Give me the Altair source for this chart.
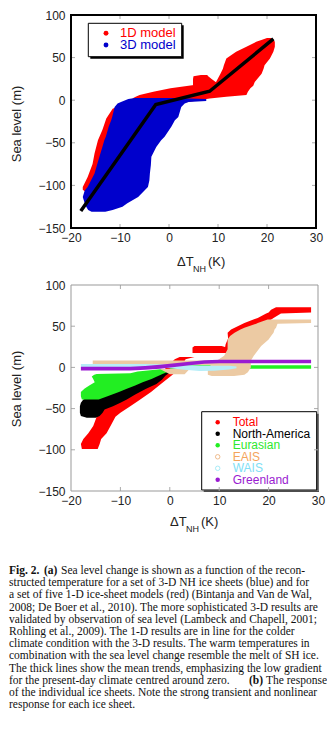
import altair as alt
import pandas as pd

SANS = "Liberation Sans"
SERIF = "Liberation Serif"

XT = [-20, -10, 0, 10, 20, 30]
YT = [-150, -100, -50, 0, 50, 100]
XT_IN = [-10, 0, 10, 20]
YT_IN = [-100, -50, 0, 50]

# ---------------- panel (a) : cloud outlines ----------------
# 1D model (red) pieces: sea level y, left x, right x
RED_LEFT_Y = [-107, -105, -101.8, -90, -75, -62.6, -47, -35, -21.6, -10, -4]
RED_LEFT_XL = [-17.2, -17.6, -17.6, -16.6, -15.6, -15.2, -14.5, -13.6, -12.8, -11.5, -9]
RED_LEFT_XR = [-12, -10, -9, -9, -9, -9, -9, -9, -9, -8, -5]

RED_BODY_Y = [-4, 2, 4, 6, 10, 14, 17, 21.5, 31, 37, 41, 49, 57, 62.6, 68.5, 71, 73]
RED_BODY_XL = [-5, -7.5, -6.8, -6, -3.2, 0.3, 4, 9.6, 10.5, 11, 11.2, 11.7, 13.7, 15.8, 17.8, 19, 20]
RED_BODY_XR = [2, 8.3, 11.7, 15.8, 16.1, 16.6, 17.2, 17.5, 18.9, 19.3, 19.5, 20.6, 21.3, 21.6, 21.6, 21.3, 20.8]

RED_ARM_Y = [17, 21, 25, 28, 29.5]
RED_ARM_XL = [4.9, 4.9, 4.9, 5.0, 6.5]
RED_ARM_XR = [10, 9.6, 8.7, 8.0, 7.8]

# 3D model (blue)
BLUE_Y = [-131, -129, -125, -121, -113.5, -106, -101.8, -94, -86, -76, -66.5, -55, -47, -43,
          -31, -23.5, -19.6, -8, -4, -2, -1, 1.5, 2.5]
BLUE_XL = [-15.8, -16.5, -16.9, -17.2, -17.6, -17.2, -16.6, -15.9, -15.2, -14.7, -14.2, -13.6,
           -13.2, -12.9, -12.3, -11.8, -11.6, -11.1, -10.5, -9.8, -9.3, -8.3, -7]
BLUE_XR = [-13, -11.5, -9.5, -8.5, -6.3, -5, -4.3, -4.0, -3.9, -3.7, -3.6, -2.6, -1.6, -0.9,
           0.5, 1.2, 1.9, 2.5, 3.2, 4, 7.6, 7.6, 1]

# mean trend (thick black line)
MEAN_X = [-18, -2.7, 8.3, 21.3]
MEAN_Y = [-130, -5, 10.5, 72]

LEG_A = ["1D model", "3D model"]
LEG_A_COL = ["#ff0000", "#0000cc"]

# ---------------- panel (b) ----------------
TOT_LOW_Y = [-99, -93, -87, -80, -71, -60, -55, -47, -40, -30, -20, -10, -2, 4, 10, 12.5]
TOT_LOW_XL = [-17.8, -18, -17.5, -16.5, -15.5, -14.8, -14.5, -13.5, -12, -9, -6, -3, -1, 0, 1, 2]
TOT_LOW_XR = [-14.6, -14.2, -13.9, -12.8, -12, -11, -10, -8, -6.2, -3.8, -1.8, 0.3, 2, 2.6, 3.2, 5]

TOT_ARM_Y = [17.5, 20, 24, 26]
TOT_ARM_XL = [4.6, 4.6, 4.6, 5.0]
TOT_ARM_XR = [12, 12, 11.5, 10.5]

TOT_TOP_Y = [18, 28, 35, 42, 46, 54, 60, 65.5, 66.5, 70, 73]
TOT_TOP_XL = [11, 11.3, 11.8, 11.7, 12.4, 15.1, 17.8, 19.5, 20, 20.5, 21.5]
TOT_TOP_XR = [14, 14, 15, 16, 17, 19.5, 21, 22.5, 28.6, 28.6, 28.6]

NA_Y = [-61, -59, -55, -51, -47, -43, -39, -33, -26, -20, -15, -10, -5, -3]
NA_XL = [-16.8, -18, -18.2, -18.2, -18.2, -18, -17.5, -15, -13, -10, -7, -4, -1.5, 0]
NA_XR = [-15, -14.2, -13.6, -13.2, -11.5, -10, -8.7, -7, -4.8, -2.7, -1.6, -0.9, 0.3, 1]

EU_Y = [-39, -35, -30, -26, -22, -18, -14, -11, -9, -8, -7, -5, -3, -2]
EU_XL = [-17.8, -18, -18, -17.3, -16.3, -15.2, -15.5, -15.8, -15.3, -14.8, -8, -6.5, -3, -1.5]
EU_XR = [-14.4, -12.6, -10.3, -8.7, -7, -5.5, -3.7, -2.6, -1.8, -1.5, -1.1, -0.3, 0.3, 0.5]
EU_BAR_Y = [-1.5, 2.5]
EU_BAR_XL = [0, 0]
EU_BAR_XR = [28.6, 28.6]

EAIS_BAND_Y = [3, 8.4]
EAIS_BAND_XL = [-15.6, -15.6]
EAIS_BAND_XR = [10, 10]
EAIS_LOW_Y = [-8.4, -2]
EAIS_LOW_XL = [0, -2]
EAIS_LOW_XR = [3, 4]
EAIS_Y = [-10.5, -9, -6, 0, 8, 14, 22, 26, 34, 38, 42, 46, 48, 53, 54, 56, 58]
EAIS_XL = [8.5, 7.7, 7.7, 7.7, 9.5, 11, 11.7, 11.7, 11.7, 12.2, 13.1, 14.3, 15.1, 17.5, 17.8, 18.8, 19.8]
EAIS_XR = [13, 15.1, 15.8, 16.4, 16.4, 17, 18, 18.5, 20, 20.5, 21, 21.2, 21.5, 21.8, 28.6, 28.6, 28.6]

WAIS_X = [-18, -10, -5, 0, 3, 6, 9, 12, 13.5]
WAIS_LO = [0.3, 0.3, 0, -1, -3, -4.5, -4, -2.5, -1]
WAIS_HI = [4, 4, 4, 3.5, 3, 2, 2, 2, 1]

GRL_X = [-18, -8, -5, -2, 1, 4, 7, 10, 28.6]
GRL_LO = [-3.8, -3.8, -3, -1.5, 0.5, 2.5, 4.5, 5, 5]
GRL_HI = [0.8, 0.8, 1.8, 3.2, 5, 7, 8.8, 9.2, 9.2]

LEG_B = ["Total", "North-America", "Eurasian", "EAIS", "WAIS", "Greenland"]
LEG_B_TXT = ["#ff0000", "#000000", "#2ee82e", "#f4a45c", "#80e0f5", "#9a1bd1"]
LEG_B_SYM = ["#ff0000", "#000000", "#22ee22", "#efbb8c", "#a8ecf8", "#9a1bd1"]
LEG_B_FILLED = [True, True, True, False, False, True]

CAPTION = [
    "Fig. 2. (a) Sea level change is shown as a function of the recon-",
    "structed temperature for a set of 3-D NH ice sheets (blue) and for",
    "a set of five 1-D ice-sheet models (red) (Bintanja and Van de Wal,",
    "2008; De Boer et al., 2010). The more sophisticated 3-D results are",
    "validated by observation of sea level (Lambeck and Chapell, 2001;",
    "Rohling et al., 2009). The 1-D results are in line for the colder",
    "climate condition with the 3-D results. The warm temperatures in",
    "combination with the sea level change resemble the melt of SH ice.",
    "The thick lines show the mean trends, emphasizing the low gradient",
    "for the present-day climate centred around zero. (b) The response",
    "of the individual ice sheets. Note the strong transient and nonlinear",
    "response for each ice sheet.",
]

# ---------------- helpers ----------------
XS = alt.Scale(domain=[-20, 30], nice=False, zero=False)
YS = alt.Scale(domain=[-150, 100], nice=False, zero=False)
AX = alt.Axis(values=XT, title=None, ticks=False, domain=False, grid=False, labelPadding=4,
              labelFontSize=12, labelFont=SANS, labelColor="#222", labelFlush=False, labelOverlap=False)
AY = alt.Axis(values=YT, title=None, ticks=False, domain=False, grid=False, labelPadding=6,
              labelFontSize=12, labelFont=SANS, labelColor="#222", labelOverlap=False)
ONE = pd.DataFrame({"k": [0]})


def harea(ys, xl, xr, color, opacity=1.0):
    df = pd.DataFrame({"y": ys, "xl": xl, "xr": xr})
    return alt.Chart(df).mark_area(orient="horizontal", color=color, opacity=opacity).encode(
        y=alt.Y("y:Q", scale=YS, axis=AY),
        x=alt.X("xl:Q", scale=XS, axis=AX),
        x2="xr:Q",
    )


def varea(xs, lo, hi, color):
    df = pd.DataFrame({"x": xs, "lo": lo, "hi": hi})
    return alt.Chart(df).mark_area(color=color).encode(
        x=alt.X("x:Q", scale=XS, axis=AX),
        y=alt.Y("lo:Q", scale=YS, axis=AY),
        y2="hi:Q",
    )


def rect(x1, x2, y1, y2, **kw):
    return alt.Chart(ONE).mark_rect(**kw).encode(
        x=alt.value(x1), x2=alt.value(x2), y=alt.value(y1), y2=alt.value(y2))


def text(x, y, s, **kw):
    return alt.Chart(ONE).mark_text(**kw).encode(
        x=alt.value(x), y=alt.value(y), text=alt.value(s))


def dot(x, y, color, filled=True, size=22):
    return alt.Chart(ONE).mark_point(filled=filled, color=color, size=size, opacity=1,
                                     strokeWidth=1).encode(x=alt.value(x), y=alt.value(y))


def ticks(W, H, color):
    dx = pd.DataFrame({"v": XT_IN})
    dy = pd.DataFrame({"v": YT_IN})
    out = []
    for y1, y2 in [(H, H - 4), (0, 4)]:
        out.append(alt.Chart(dx).mark_rule(color=color, strokeWidth=1).encode(
            x=alt.X("v:Q", scale=XS, axis=AX), y=alt.value(y1), y2=alt.value(y2)))
    for x1, x2 in [(0, 4), (W, W - 4)]:
        out.append(alt.Chart(dy).mark_rule(color=color, strokeWidth=1).encode(
            y=alt.Y("v:Q", scale=YS, axis=AY), x=alt.value(x1), x2=alt.value(x2)))
    return out


def titles(W, H, ytitle_y, tx, ty):
    t = [text(-54, ytitle_y, "Sea level (m)", angle=270, font=SANS, fontSize=13,
              color="#222", align="center", baseline="middle")]
    t.append(text(tx, ty, "ΔT", font=SANS, fontSize=13, color="#222", align="left", baseline="middle"))
    t.append(text(tx + 16, ty + 7, "NH", font=SANS, fontSize=9, color="#222", align="left", baseline="middle"))
    t.append(text(tx + 31, ty, "(K)", font=SANS, fontSize=13, color="#222", align="left", baseline="middle"))
    return t


# ---------------- panel (a) ----------------
WA, HA = 245, 213
la = [
    harea(RED_LEFT_Y, RED_LEFT_XL, RED_LEFT_XR, "#ff0000"),
    harea(RED_BODY_Y, RED_BODY_XL, RED_BODY_XR, "#ff0000"),
    harea(RED_ARM_Y, RED_ARM_XL, RED_ARM_XR, "#ff0000"),
    harea(BLUE_Y, BLUE_XL, BLUE_XR, "#0000cc"),
    alt.Chart(pd.DataFrame({"x": MEAN_X, "y": MEAN_Y})).mark_line(
        color="black", strokeWidth=3.5, strokeCap="butt", strokeJoin="miter").encode(
        x=alt.X("x:Q", scale=XS, axis=AX), y=alt.Y("y:Q", scale=YS, axis=AY), order="x:Q"),
    rect(19.3, 112.7, 10.3, 43.7, color="black"),
    rect(17.3, 110.7, 8.3, 41.7, fill="white", stroke="black", strokeWidth=1),
]
for i, (name, col) in enumerate(zip(LEG_A, LEG_A_COL)):
    la.append(dot(35, 18.3 + 11.7 * i, col, size=24))
    la.append(text(49, 18.3 + 11.7 * i, name, font=SANS, fontSize=13, color=col,
                   align="left", baseline="middle"))
la += ticks(WA, HA, "#aaaaaa")
la.append(rect(0, WA, 0, HA, fillOpacity=0, stroke="black", strokeWidth=2))
la += titles(WA, HA, 109, 106, 247)
panel_a = alt.layer(*la).properties(width=WA, height=HA)

# ---------------- panel (b) ----------------
WB, HB = 247, 206
lb = [
    harea(TOT_LOW_Y, TOT_LOW_XL, TOT_LOW_XR, "#ff0000"),
    harea(TOT_ARM_Y, TOT_ARM_XL, TOT_ARM_XR, "#ff0000"),
    harea(TOT_TOP_Y, TOT_TOP_XL, TOT_TOP_XR, "#ff0000"),
    harea(NA_Y, NA_XL, NA_XR, "#000000"),
    harea(EU_Y, EU_XL, EU_XR, "#22ee22"),
    harea(EU_BAR_Y, EU_BAR_XL, EU_BAR_XR, "#22ee22"),
    harea(EAIS_BAND_Y, EAIS_BAND_XL, EAIS_BAND_XR, "#eccaa3"),
    harea(EAIS_LOW_Y, EAIS_LOW_XL, EAIS_LOW_XR, "#eccaa3"),
    harea(EAIS_Y, EAIS_XL, EAIS_XR, "#eccaa3"),
    varea(WAIS_X, WAIS_LO, WAIS_HI, "#b6eef8"),
    varea(GRL_X, GRL_LO, GRL_HI, "#9a1bd1"),
    rect(132.7, 247.7, 128.7, 207, color="black"),
    rect(130.7, 245.7, 126.7, 205, fill="white", stroke="black", strokeWidth=1),
]
for i, name in enumerate(LEG_B):
    yy = 137.3 + 11.5 * i
    lb.append(dot(146.7, yy, LEG_B_SYM[i], filled=LEG_B_FILLED[i], size=20))
    lb.append(text(161.7, yy, name, font=SANS, fontSize=12, color=LEG_B_TXT[i],
                   align="left", baseline="middle"))
lb += ticks(WB, HB, "#aaaaaa")
lb.append(rect(0, WB, 0, HB, fillOpacity=0, stroke="#999999", strokeWidth=1))
lb += titles(WB, HB, 104, 99, 237)

# caption
CX, CY0, CDY, CFS = -62, 286, 12.2, 11.5
cap_style = dict(font=SERIF, fontSize=CFS, color="#111", baseline="middle")
first = CAPTION[0]
lb.append(text(CX, CY0, first[:7], fontWeight="bold", align="left", **cap_style))
lb.append(text(CX + 35, CY0, first[8:11], fontWeight="bold", align="left", **cap_style))
lb.append(text(CX + 52, CY0, first[12:], align="left", **cap_style))
for i in range(1, len(CAPTION)):
    line = CAPTION[i]
    yy = CY0 + CDY * i
    if "(b)" in line:
        a, b = line.split(" (b) ")
        lb.append(text(CX, yy, a, align="left", **cap_style))
        lb.append(text(CX + 240, yy, "(b)", fontWeight="bold", align="left", **cap_style))
        lb.append(text(CX + 318, yy, b, align="right", **cap_style))
    else:
        lb.append(text(CX, yy, line, align="left", **cap_style))

panel_b = alt.layer(*lb).properties(width=WB, height=HB)

chart = alt.VConcatChart(vconcat=[panel_a, panel_b], spacing=57, bounds="flush").resolve_scale(
    x="independent", y="independent"
).properties(
    padding={"left": 9, "top": 9, "right": 0, "bottom": 0}, background="white"
).configure_view(stroke=None)

chart.save("out.html", embed_options={"renderer": "svg", "actions": False})
